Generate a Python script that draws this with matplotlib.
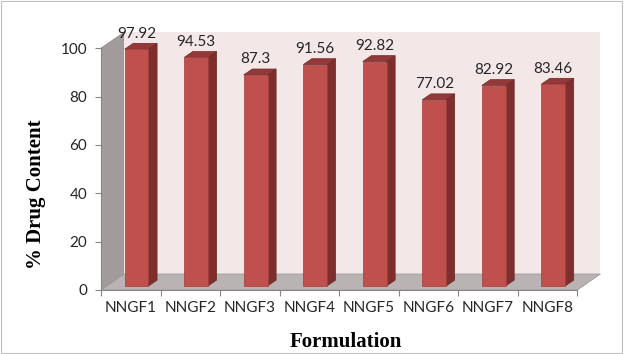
import numpy as np
import matplotlib.pyplot as plt
from matplotlib.patches import Polygon, Rectangle

# drug content per formulation
formulations = ['NNGF1', 'NNGF2', 'NNGF3', 'NNGF4', 'NNGF5', 'NNGF6', 'NNGF7', 'NNGF8']
drug_content = [97.92, 94.53, 87.3, 91.56, 92.82, 77.02, 82.92, 83.46]
value_labels = ['97.92', '94.53', '87.3', '91.56', '92.82', '77.02', '82.92', '83.46']
y_ticks = [0, 20, 40, 60, 80, 100]

# oblique depth of the pseudo-3d box (x in categories, y in data units)
DX, DY = 0.39, 6.6
F0, F1 = 0.25, 0.62   # front / back of the bars inside the depth
BW = 0.40

front_c = '#C0504D'
side_c = '#7E2F2D'
top_c = '#94393A'

fig = plt.figure(figsize=(6.24, 3.54), dpi=100)
fig.patches.append(Rectangle((0.002, 0.003), 0.995, 0.994, transform=fig.transFigure,
                             fill=False, edgecolor='#BFBFBF', lw=0.8))
ax = fig.add_axes([0.1619, 0.1808, 0.806, 0.737])
n = len(formulations)
ax.set_xlim(0, n + 0.45)
ax.set_ylim(0, 107.9)

# walls and floor
ax.add_patch(Polygon([(0, 0), (DX, DY), (DX, 100 + DY), (0, 100)],
                     closed=True, facecolor='#A19B9B', edgecolor='#8C8686', lw=0.6, zorder=1))
ax.add_patch(Polygon([(DX, DY), (n + DX, DY), (n + DX, 100 + DY), (DX, 100 + DY)],
                     closed=True, facecolor='#F4E7E7', edgecolor='none', zorder=1))
ax.add_patch(Polygon([(0, 0), (n, 0), (n + DX, DY), (DX, DY)],
                     closed=True, facecolor='#BAB3B3', edgecolor='#9E9898', lw=0.6, zorder=1))

for i, v in enumerate(drug_content):
    x0 = i + 0.5 - BW / 2 + F0 * DX
    x1 = x0 + BW
    y0 = F0 * DY
    y1 = v + F0 * DY
    ddx = (F1 - F0) * DX
    ddy = (F1 - F0) * DY
    ax.add_patch(Polygon([(x1, y0), (x1 + ddx, y0 + ddy), (x1 + ddx, y1 + ddy), (x1, y1)],
                         closed=True, facecolor=side_c, edgecolor='#6E2826', lw=0.5, zorder=3))
    ax.add_patch(Polygon([(x0, y1), (x1, y1), (x1 + ddx, y1 + ddy), (x0 + ddx, y1 + ddy)],
                         closed=True, facecolor=top_c, edgecolor='#6E2826', lw=0.5, zorder=3))
    ax.add_patch(Rectangle((x0, y0), BW, v, facecolor=front_c, edgecolor='#A03E3B',
                           lw=0.5, zorder=4))
    ax.text((x0 + x1) / 2, y1 + ddy + 2.3, value_labels[i], ha='center', va='baseline',
            fontsize=11, family='Lato', color='#262626', clip_on=False)

for s in ['top', 'right']:
    ax.spines[s].set_visible(False)
ax.spines['left'].set_bounds(0, 100)
ax.spines['bottom'].set_bounds(0, n)
for s in ['left', 'bottom']:
    ax.spines[s].set_color('#868686')
    ax.spines[s].set_linewidth(0.8)
    ax.spines[s].set_zorder(5)

ax.set_yticks(y_ticks)
ax.set_yticklabels([str(t) for t in y_ticks], family='Lato', fontsize=11, color='#262626')
ax.set_xticks(np.arange(n + 1))
ax.set_xticklabels([])
ax.set_xticks(np.arange(n) + 0.5, minor=True)
ax.set_xticklabels(formulations, minor=True, family='Lato', fontsize=11, color='#262626')
ax.tick_params(axis='both', which='major', length=4, width=0.8, color='#868686')
ax.tick_params(axis='y', pad=6)
ax.tick_params(axis='x', which='minor', length=0, pad=8)
ax.patch.set_visible(False)

fig.text(0.058, 0.452, '% Drug Content', rotation=90, ha='center', va='center',
         family='Liberation Serif', fontweight='bold', fontsize=15)
fig.text(0.554, 0.034, 'Formulation', ha='center', va='center',
         family='Liberation Serif', fontweight='bold', fontsize=15)

fig.savefig('out.png', dpi=100)
